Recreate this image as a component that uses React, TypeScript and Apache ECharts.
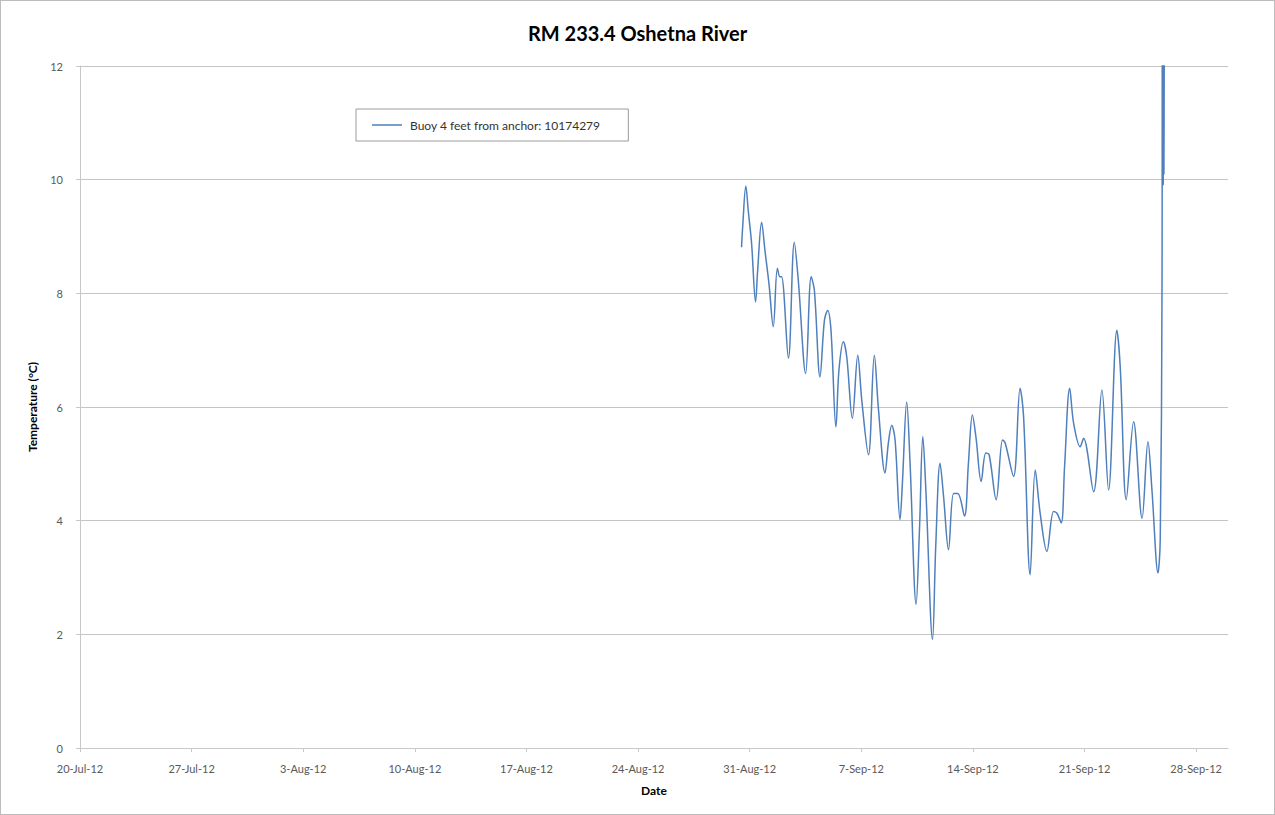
import React, { useEffect, useRef } from "react";
import * as echarts from "echarts";

// Days since 20-Jul-2012 (fractional) and temperature (°C)
const dayOffsets: number[] = [
  41.49, 41.56, 41.76, 41.91, 42.12, 42.37, 42.5, 42.75, 42.96, 43.21, 43.48, 43.74, 43.9, 44.0,
  44.43, 44.8, 45.05, 45.51, 45.86, 46.06, 46.41, 46.69, 46.89, 47.1, 47.41, 47.6, 47.88, 48.09,
  48.44, 48.78, 49.03, 49.45, 49.82, 50.08, 50.49, 50.7, 50.91, 51.12, 51.43, 51.58, 51.85, 52.06,
  52.44, 52.65, 52.86, 53.05, 53.47, 53.67, 53.94, 54.16, 54.47, 54.79, 55.05, 55.47, 55.72, 55.97,
  56.2, 56.52, 56.81, 57.02, 57.46, 57.86, 58.02, 58.55, 58.96, 59.18, 59.59, 59.91, 60.22, 60.64,
  61.06, 61.27, 61.54, 61.75, 62.07, 62.32, 62.73, 62.94, 63.57, 64.09, 64.51, 65.03, 65.24, 65.62,
  66.08, 66.61, 66.98, 67.23, 67.61, 67.75, 67.86, 67.88, 67.9, 67.92, 67.94, 67.96, 67.98, 68.0,
];
const temperatures: number[] = [
  8.81, 9.16, 9.89, 9.46, 8.88, 7.85, 8.4, 9.25, 8.75, 8.17, 7.41, 8.44, 8.29, 8.29,
  6.86, 8.9, 8.23, 6.59, 8.29, 8.05, 6.53, 7.53, 7.7, 7.35, 5.65, 6.65, 7.15, 6.88,
  5.8, 6.91, 6.12, 5.16, 6.91, 5.95, 4.84, 5.37, 5.68, 5.42, 4.02, 4.67, 6.09, 5.01,
  2.53, 3.84, 5.48, 4.54, 1.91, 3.55, 5.01, 4.43, 3.49, 4.48, 4.48, 4.08, 5.01, 5.86,
  5.45, 4.69, 5.19, 5.16, 4.37, 5.42, 5.37, 4.78, 6.33, 5.83, 3.05, 4.89, 4.13, 3.46,
  4.16, 4.13, 3.96, 4.95, 6.33, 5.71, 5.3, 5.45, 4.51, 6.3, 4.54, 7.35, 6.71, 4.37,
  5.74, 4.04, 5.39, 4.54, 3.08, 3.67, 8.0, 12.5, 10.0, 12.4, 9.9, 12.3, 10.1, 12.2,
];

const startDate = new Date(2012, 6, 20);
const monthNames = ["Jan", "Feb", "Mar", "Apr", "May", "Jun", "Jul", "Aug", "Sep", "Oct", "Nov", "Dec"];
const xTickDays: number[] = [0, 7, 14, 21, 28, 35, 42, 49, 56, 63, 70];
const yTicks: number[] = [0, 2, 4, 6, 8, 10, 12];

const seriesName = "Buoy 4 feet from anchor: 10174279";
const titleText = "RM 233.4 Oshetna River";

function dayLabel(d: number): string {
  const dt = new Date(startDate.getTime() + Math.round(d) * 86400000);
  return `${dt.getDate()}-${monthNames[dt.getMonth()]}-${String(dt.getFullYear()).slice(2)}`;
}

const FONT = "Lato, 'Open Sans', sans-serif";

export default function App() {
  const ref = useRef<HTMLDivElement>(null);
  useEffect(() => {
    if (!ref.current) return;
    const chart = echarts.init(ref.current, undefined, { renderer: "svg" });
    chart.setOption({
      animation: false,
      backgroundColor: "#ffffff",
      textStyle: { fontFamily: FONT },
      title: {
        text: titleText,
        left: "center",
        top: 17,
        textStyle: { fontFamily: FONT, fontSize: 20, fontWeight: "bold", color: "#000" },
      },
      legend: {
        left: 355,
        top: 108,
        orient: "horizontal",
        padding: [10, 28, 10, 16],
        borderColor: "#9a9a9a",
        borderWidth: 1,
        icon: "rect",
        itemWidth: 30,
        itemHeight: 1.5,
        itemGap: 8,
        textStyle: { fontFamily: FONT, fontSize: 12, color: "#333", padding: [0, 0, 0, 3] },
        data: [{ name: seriesName }],
      },
      grid: { left: 79, right: 46, top: 65, bottom: 66, containLabel: false },
      xAxis: {
        type: "value",
        min: 0,
        max: 72,
        interval: 7,
        name: "Date",
        nameLocation: "middle",
        nameGap: 36,
        nameTextStyle: { fontFamily: FONT, fontSize: 12, fontWeight: "bold", color: "#000" },
        axisLine: { show: true, lineStyle: { color: "#c8c8c8", width: 1 } },
        axisTick: { show: true, length: 4, lineStyle: { color: "#c8c8c8" }, customValues: xTickDays },
        axisLabel: {
          customValues: xTickDays,
          formatter: (v: number) => dayLabel(v),
          fontFamily: FONT,
          fontSize: 11,
          color: "#595959",
          margin: 15,
        },
        splitLine: { show: false },
      },
      yAxis: {
        type: "value",
        min: 0,
        max: 12,
        interval: 2,
        name: "Temperature (°C)",
        nameLocation: "middle",
        nameGap: 42,
        nameRotate: 90,
        nameTextStyle: { fontFamily: FONT, fontSize: 12, fontWeight: "bold", color: "#000" },
        axisLine: { show: true, lineStyle: { color: "#c8c8c8", width: 1 } },
        axisTick: { show: true, length: 4, lineStyle: { color: "#c8c8c8" } },
        axisLabel: {
          fontFamily: FONT,
          fontSize: 11,
          color: "#595959",
          margin: 17,
          formatter: (v: number) => (yTicks.includes(v) ? String(v) : ""),
        },
        splitLine: { show: true, lineStyle: { color: "#c4c4c4", width: 1 } },
      },
      series: [
        {
          name: seriesName,
          type: "line",
          data: dayOffsets.map((d, i) => [d, temperatures[i]]),
          showSymbol: false,
          symbol: "none",
          smooth: 0.35,
          clip: true,
          lineStyle: { color: "#4f7fbc", width: 1.5 },
          itemStyle: { color: "#4f7fbc" },
        },
      ],
    });
    return () => chart.dispose();
  }, []);
  return (
    <div
      style={{
        position: "absolute",
        left: 0,
        top: 0,
        width: 1275,
        height: 815,
        boxSizing: "border-box",
        border: "1px solid #bcbcbc",
        background: "#fff",
      }}
    >
      <div ref={ref} style={{ width: 1273, height: 813 }} />
    </div>
  );
}
